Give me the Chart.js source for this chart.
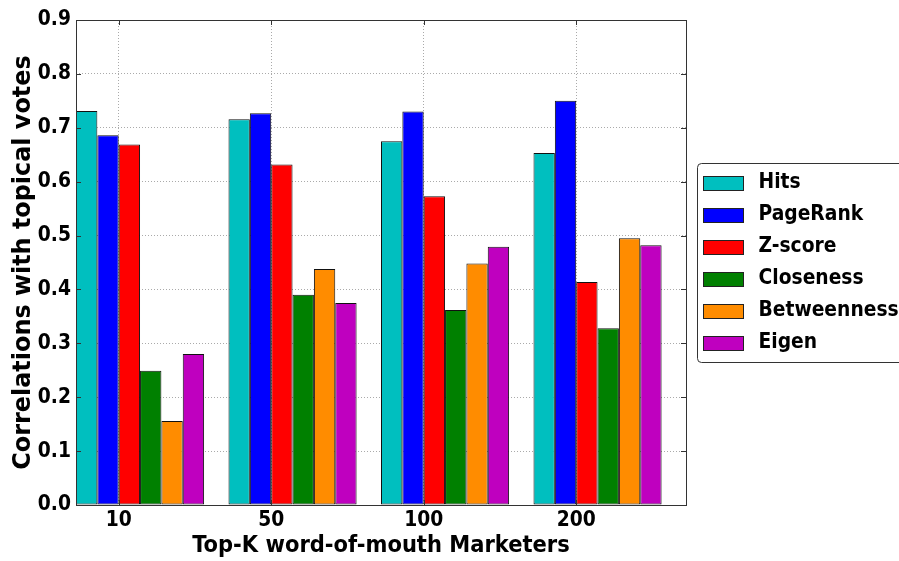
<!DOCTYPE html>
<html>
<head>
  <meta charset="utf-8">
  <title>Top-K word-of-mouth Marketers</title>
  <script src="https://cdn.jsdelivr.net/npm/chart.js"></script>
  <style>
    body { margin: 0; background: #fff; overflow: hidden; }
    canvas { display: block; }
  </style>
</head>
<body>
  <canvas id="corrChart" width="899" height="561"></canvas>

  <script>
    const topK = ['10', '50', '100', '200'];
    const hits        = [0.731, 0.716, 0.675, 0.653];
    const pageRank    = [0.686, 0.727, 0.730, 0.750];
    const zScore      = [0.669, 0.632, 0.573, 0.414];
    const closeness   = [0.249, 0.390, 0.362, 0.328];
    const betweenness = [0.156, 0.438, 0.448, 0.495];
    const eigen       = [0.280, 0.375, 0.479, 0.482];
    const yTicks = [0, 0.1, 0.2, 0.3, 0.4, 0.5, 0.6, 0.7, 0.8, 0.9];

    const FONT = 'DejaVu Sans';
    const COND = 'DejaVu Sans Condensed';
    const TICK_SIZE = 20.8;
    const GROUP = 0.84;          // 6 bars x 0.14 per group
    const BAR = GROUP / 6;

    const series = [
      { label: 'Hits',        data: hits,        color: '#00bfbf' },
      { label: 'PageRank',    data: pageRank,    color: '#0000ff' },
      { label: 'Z-score',     data: zScore,      color: '#ff0000' },
      { label: 'Closeness',   data: closeness,   color: '#008000' },
      { label: 'Betweenness', data: betweenness, color: '#ff8c00' },
      { label: 'Eigen',       data: eigen,       color: '#bf00bf' }
    ];

    // frame, inward tick marks and a boxed legend hanging off the right side
    const decorations = {
      id: 'decorations',
      afterDatasetsDraw(chart) {
        const { ctx, chartArea: a, scales } = chart;
        ctx.save();
        ctx.strokeStyle = '#333';
        ctx.lineWidth = 1;
        const tl = 5;
        ctx.beginPath();
        scales.y.ticks.forEach((t, i) => {
          const y = Math.round(scales.y.getPixelForTick(i)) + 0.5;
          ctx.moveTo(a.left, y); ctx.lineTo(a.left + tl, y);
          ctx.moveTo(a.right, y); ctx.lineTo(a.right - tl, y);
        });
        scales.x.ticks.forEach((t, i) => {
          const x = Math.round(scales.x.getPixelForTick(i)) + 0.5;
          ctx.moveTo(x, a.bottom); ctx.lineTo(x, a.bottom - tl);
          ctx.moveTo(x, a.top); ctx.lineTo(x, a.top + tl);
        });
        ctx.stroke();
        ctx.strokeRect(Math.round(a.left) + 0.5, Math.round(a.top) + 0.5,
                       Math.round(a.right - a.left), Math.round(a.bottom - a.top));
        ctx.restore();
      },
      afterDraw(chart) {
        const { ctx, chartArea: a } = chart;
        const sets = chart.data.datasets;
        const rowH = 32, pad = 8;
        ctx.save();
        ctx.font = 'bold ' + TICK_SIZE + 'px "' + COND + '"';
        const textW = Math.max(...sets.map(d => ctx.measureText(d.label).width));
        const w = 6 + 40 + 15 + textW + pad;
        const h = sets.length * rowH + 7;
        const x0 = a.right + 11.5;
        const y0 = Math.round((a.top + a.bottom) / 2 - h / 2) + 0.5;
        ctx.fillStyle = '#fff';
        ctx.strokeStyle = '#333';
        ctx.lineWidth = 1;
        ctx.beginPath();
        ctx.roundRect(x0, y0, w, h, 4);
        ctx.fill();
        ctx.stroke();
        sets.forEach((d, i) => {
          const cy = y0 + 3.5 + rowH * i + rowH / 2;
          ctx.fillStyle = d.backgroundColor;
          ctx.fillRect(x0 + 6, Math.round(cy - 7.5), 40, 15);
          ctx.strokeStyle = '#222';
          ctx.strokeRect(x0 + 6, Math.round(cy - 7.5) + 0.5, 40, 14);
          ctx.fillStyle = '#000';
          ctx.textBaseline = 'middle';
          ctx.fillText(d.label, x0 + 61, cy);
        });
        ctx.restore();
      }
    };

    new Chart(document.getElementById('corrChart'), {
      type: 'bar',
      data: {
        datasets: series.map(s => ({
          label: s.label,
          data: s.data.map((v, i) => ({ x: i + GROUP / 2, y: v })),
          backgroundColor: s.color,
          borderColor: '#111',
          borderWidth: 1,
          borderSkipped: false,
          categoryPercentage: GROUP,
          barPercentage: 1
        }))
      },
      options: {
        responsive: false,
        animation: false,
        layout: { padding: { left: 0, right: 213, top: 20, bottom: 0 } },
        plugins: { legend: { display: false }, tooltip: { enabled: false } },
        scales: {
          x: {
            type: 'linear',
            min: 0,
            max: 4,
            offset: false,
            afterBuildTicks: s => { s.ticks = topK.map((c, i) => ({ value: i + 2 * BAR })); },
            afterFit: s => { s.height = 56; },
            ticks: {
              callback: (v, i) => topK[i],
              padding: 3,
              maxRotation: 0,
              color: '#000',
              font: { family: COND, size: TICK_SIZE, weight: 'bold' }
            },
            grid: { offset: false, drawTicks: false, color: '#aaa', lineWidth: 1 },
            border: { display: false, dash: [1, 2] },
            title: {
              display: true,
              text: 'Top-K word-of-mouth Marketers',
              color: '#000',
              padding: { top: 0, bottom: 1 },
              font: { family: COND, size: 23.4, weight: 'bold' }
            }
          },
          y: {
            min: 0,
            max: 0.9,
            afterBuildTicks: s => { s.ticks = yTicks.map(v => ({ value: v })); },
            afterFit: s => { s.width = 76; },
            ticks: {
              callback: v => v.toFixed(1),
              padding: 5,
              color: '#000',
              font: { family: COND, size: TICK_SIZE, weight: 'bold' }
            },
            grid: { drawTicks: false, color: '#aaa', lineWidth: 1 },
            border: { display: false, dash: [1, 2] },
            title: {
              display: true,
              text: 'Correlations with topical votes',
              color: '#000',
              padding: { top: 9, bottom: 0 },
              font: { family: FONT, size: 23.9, weight: 'bold' }
            }
          }
        }
      },
      plugins: [decorations]
    });
  </script>
</body>
</html>
